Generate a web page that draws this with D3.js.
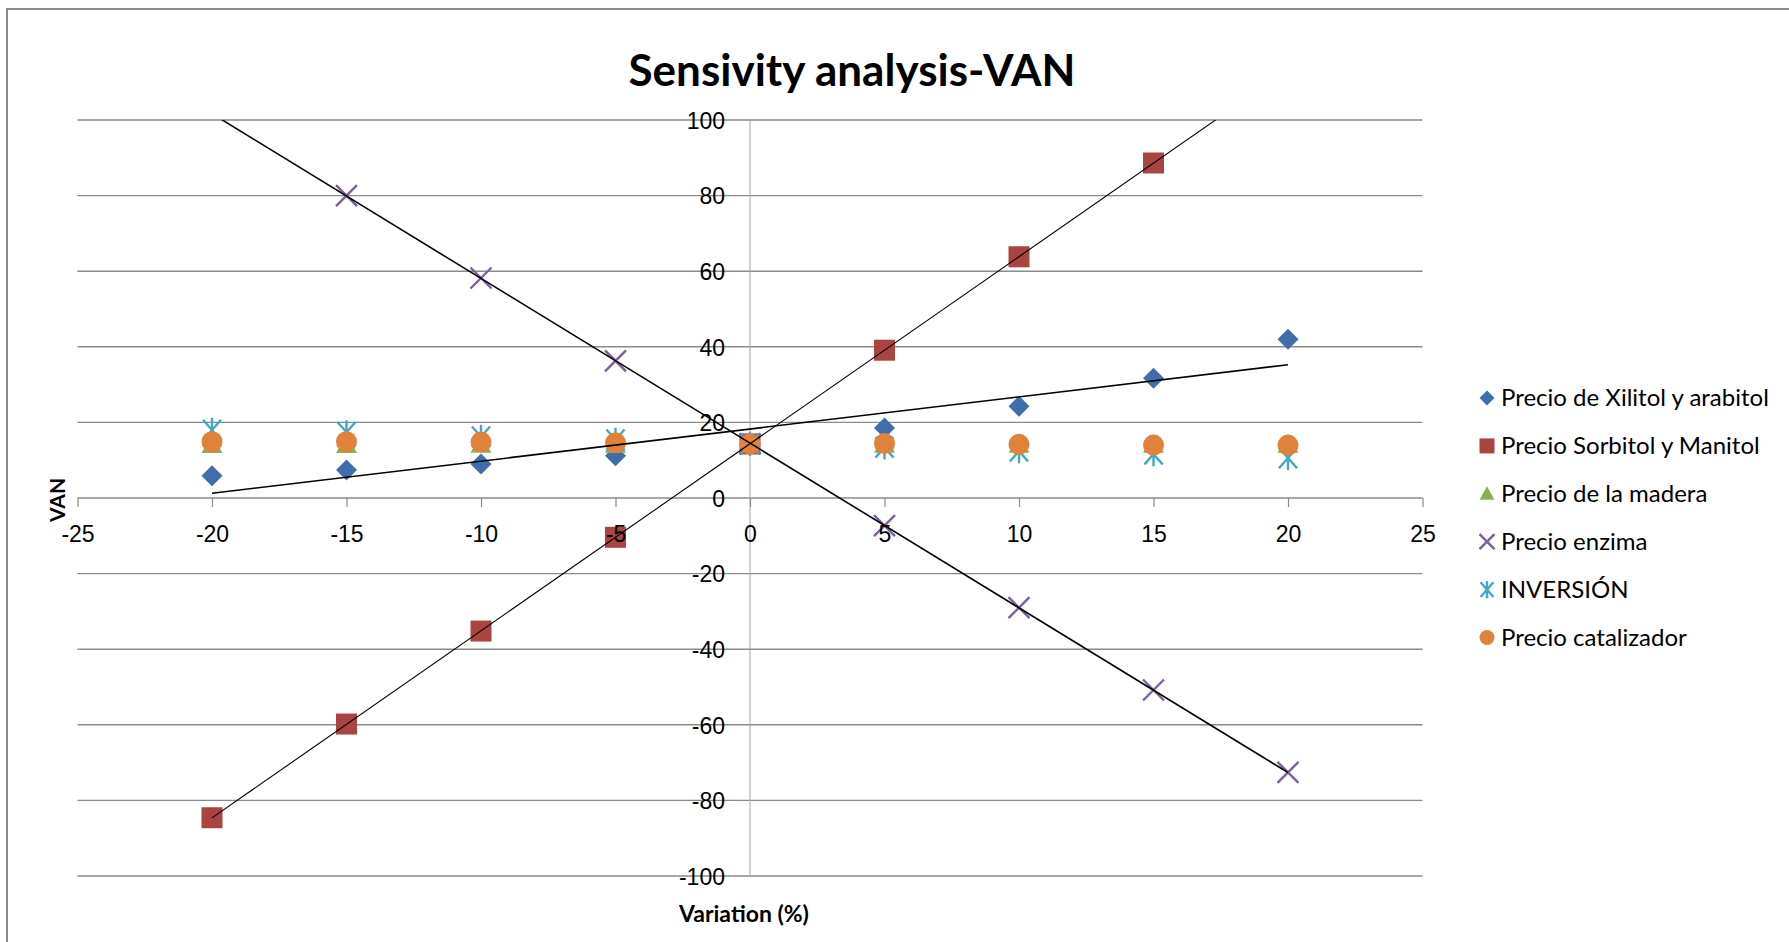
<!DOCTYPE html>
<html>
<head>
<meta charset="utf-8">
<script src="https://cdn.jsdelivr.net/npm/d3@7"></script>
<style>
    html, body { margin: 0; padding: 0; background: #fff; }
    svg { display: block; font-family: Lato, "Open Sans", sans-serif; }
    .grid { stroke: #8a8a8a; stroke-width: 1.4; }
    .vaxis { stroke: #a6a6a6; stroke-width: 1; }
    .tick text { fill: #000; font-size: 23px; }
    .trend { fill: none; stroke: #000; }
</style>
</head>
<body>
<div id="chart"></div>
<script>
// Data
const variation = [-20, -15, -10, -5, 0, 5, 10, 15, 20];
const xilitol = [5.9, 7.4, 9.0, 11.2, 14.3, 18.5, 24.3, 31.7, 42.0];
const sorbitol = [-84.6, -59.8, -35.2, -10.4, 14.3, 39.1, 63.8, 88.6, 113.4];
const madera = [14.1, 14.1, 14.2, 14.2, 14.3, 14.2, 14.2, 14.2, 14.2];
const enzima = [101.6, 80.0, 58.2, 36.3, 14.3, -7.3, -29.0, -50.8, -72.6];
const inversion = [18.0, 17.4, 16.2, 15.4, 14.3, 13.4, 12.4, 11.6, 10.6];
const catalizador = [14.9, 14.9, 14.8, 14.6, 14.3, 14.4, 14.2, 14.0, 14.0];

const seriesNames = ["Precio de Xilitol y arabitol", "Precio Sorbitol y Manitol", "Precio de la madera",
    "Precio enzima", "INVERSIÓN", "Precio catalizador"];
const seriesValues = [xilitol, sorbitol, madera, enzima, inversion, catalizador];
const seriesShapes = ["diamond", "square", "triangle", "cross", "star", "circle"];
const seriesColors = ["#3f6eab", "#a94441", "#8cb050", "#7b5f9e", "#43a8c4", "#e0823a"];
const trendSeries = [0, 1, 3]; // series with a linear trendline

const xTicks = d3.range(-25, 26, 5);
const yTicks = d3.range(-100, 101, 20);

const W = 1789, H = 942;
const svg = d3.select("#chart").append("svg").attr("width", W).attr("height", H);

// outer chart frame
svg.append("rect").attr("x", 7).attr("y", 9).attr("width", W).attr("height", H)
    .attr("fill", "none").attr("stroke", "#8c8c8c").attr("stroke-width", 2);

const x = d3.scaleLinear().domain([-25, 25]).range([77.5, 1422.5]);
const y = d3.scaleLinear().domain([-100, 100]).range([876, 120]);

svg.append("defs").append("clipPath").attr("id", "plot-clip")
    .append("rect").attr("x", x(-25)).attr("y", y(100))
    .attr("width", x(25) - x(-25)).attr("height", y(-100) - y(100));

// gridlines
svg.append("g").selectAll("line").data(yTicks).join("line")
    .attr("class", "grid")
    .attr("x1", x(-25)).attr("x2", x(25))
    .attr("y1", d => y(d)).attr("y2", d => y(d));

svg.append("line").attr("class", "vaxis")
    .attr("x1", x(0)).attr("x2", x(0)).attr("y1", y(100)).attr("y2", y(-100));

// markers
const symbolPath = {
    diamond: r => `M0,${-r}L${r},0L0,${r}L${-r},0Z`,
    square: r => `M${-r},${-r}H${r}V${r}H${-r}Z`,
    triangle: r => `M0,${-r}L${r},${r * 0.8}L${-r},${r * 0.8}Z`,
    circle: r => `M${-r},0A${r},${r} 0 1,0 ${r},0A${r},${r} 0 1,0 ${-r},0Z`,
    cross: r => `M${-r},${-r}L${r},${r}M${r},${-r}L${-r},${r}`,
    star: r => `M0,${-r}V${r}M${-r * 0.75},${-r * 0.85}L${r * 0.75},${r * 0.85}M${r * 0.75},${-r * 0.85}L${-r * 0.75},${r * 0.85}`
};
const isStroked = s => s === "cross" || s === "star";

function drawMarker(sel, shape, color, r) {
    sel.attr("d", symbolPath[shape](shape === "star" ? r * 1.15 : r))
        .attr("fill", isStroked(shape) ? "none" : color)
        .attr("stroke", isStroked(shape) ? color : "none")
        .attr("stroke-width", isStroked(shape) ? 2.4 : 0);
}

const plot = svg.append("g").attr("clip-path", "url(#plot-clip)");

seriesValues.forEach((vals, i) => {
    const pts = vals.map((v, k) => [variation[k], v]).filter(p => p[1] <= 100 && p[1] >= -100);
    plot.append("g").selectAll("path").data(pts).join("path")
        .attr("transform", d => `translate(${x(d[0])},${y(d[1])})`)
        .each(function() { drawMarker(d3.select(this), seriesShapes[i], seriesColors[i], 10.5); });
});

// linear least-squares trendlines
function linearFit(xs, ys) {
    const mx = d3.mean(xs), my = d3.mean(ys);
    const slope = d3.sum(xs, (v, k) => (v - mx) * (ys[k] - my)) / d3.sum(xs, v => (v - mx) ** 2);
    return v => my + slope * (v - mx);
}

const trendWidths = { 0: 1.6, 1: 1.1, 3: 1.6 };
trendSeries.forEach(i => {
    const f = linearFit(variation, seriesValues[i]);
    const x0 = d3.min(variation), x1 = d3.max(variation);
    plot.append("line").attr("class", "trend")
        .attr("stroke-width", trendWidths[i])
        .attr("stroke", i === 1 ? "#333" : "#000")
        .attr("x1", x(x0)).attr("y1", y(f(x0)))
        .attr("x2", x(x1)).attr("y2", y(f(x1)));
});

// axes go on top of the markers, as in the spreadsheet; plain hyphen for negatives
const fmt = d => String(d);

const xAxis = svg.append("g").attr("transform", `translate(0,${y(0)})`)
    .call(d3.axisBottom(x).tickValues(xTicks).tickFormat(fmt).tickSize(9).tickPadding(19).tickSizeOuter(0));
xAxis.select(".domain").remove();
xAxis.selectAll(".tick line").attr("stroke", "#8a8a8a").attr("stroke-width", 1.2);

const yAxis = svg.append("g").attr("transform", `translate(${x(0)},0)`)
    .call(d3.axisLeft(y).tickValues(yTicks).tickFormat(fmt).tickSize(0).tickPadding(25));
yAxis.select(".domain").remove();
yAxis.selectAll(".tick text").attr("dy", "0.36em");

// title and axis titles
svg.append("text").attr("x", 852).attr("y", 86).attr("text-anchor", "middle")
    .attr("font-size", 44).attr("font-weight", "bold").text("Sensivity analysis-VAN");

svg.append("text").attr("transform", `translate(65,500) rotate(-90)`).attr("text-anchor", "middle")
    .attr("font-size", 21).attr("font-weight", "bold").text("VAN");

svg.append("text").attr("x", 744).attr("y", 922).attr("text-anchor", "middle")
    .attr("font-size", 23).attr("font-weight", "bold").text("Variation (%)");

// legend
const legend = svg.append("g").attr("transform", "translate(1487,398)");
const rows = legend.selectAll("g").data(seriesNames).join("g")
    .attr("transform", (d, i) => `translate(0,${i * 47.9})`);
rows.append("path").each(function(d, i) {
    drawMarker(d3.select(this), seriesShapes[i], seriesColors[i], 7.5);
});
rows.append("text").attr("x", 14).attr("dy", "0.35em").attr("font-size", 24).text(d => d);
</script>
</body>
</html>
